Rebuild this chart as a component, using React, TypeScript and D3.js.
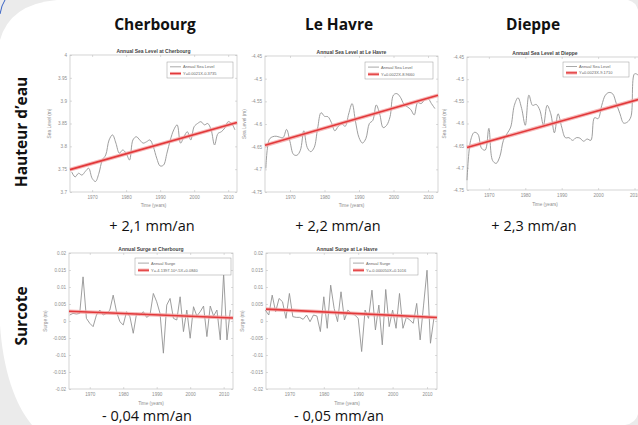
import React, { useEffect, useRef } from "react";
import * as d3 from "d3";

const WIDTH = 638;
const HEIGHT = 425;

// Column and row headings of the slide
const stations = ["Cherbourg", "Le Havre", "Dieppe"];
const rowLabels = ["Hauteur d\u2019eau", "Surcote"];
const seaLevelRates = ["+ 2,1 mm/an", "+ 2,2 mm/an", "+ 2,3 mm/an"];
const surgeRates = ["- 0,04 mm/an", "- 0,05 mm/an"];

// Tick labels
const yearTicks = [1970, 1980, 1990, 2000, 2010];
const cherbourgLevelTicks = [3.7, 3.75, 3.8, 3.85, 3.9, 3.95, 4];
const seineLevelTicks = [-4.75, -4.7, -4.65, -4.6, -4.55, -4.5, -4.45];
const surgeTicks = [-0.02, -0.015, -0.01, -0.005, 0, 0.005, 0.01, 0.015, 0.02];

// Annual mean sea level (m)
const cherbourgLevelFirstYear = 1964;
const cherbourgLevel = [
  3.744, 3.733, 3.741, 3.737, 3.745, 3.752, 3.73, 3.723, 3.741, 3.77,
  3.781, 3.814, 3.825, 3.807, 3.785, 3.792, 3.785, 3.77, 3.814, 3.821,
  3.814, 3.807, 3.81, 3.814, 3.799, 3.774, 3.757, 3.759, 3.785, 3.814,
  3.836, 3.847, 3.807, 3.821, 3.832, 3.814, 3.843, 3.85, 3.854, 3.847,
  3.85, 3.836, 3.803, 3.828, 3.832, 3.84, 3.854, 3.85, 3.836,
];

const leHavreLevelFirstYear = 1963;
const leHavreLevel = [
  -4.698, -4.634, -4.628, -4.627, -4.629, -4.63, -4.612, -4.639, -4.667, -4.669,
  -4.658, -4.615, -4.652, -4.661, -4.652, -4.61, -4.575, -4.583, -4.584, -4.597,
  -4.615, -4.605, -4.6, -4.605, -4.578, -4.555, -4.595, -4.63, -4.642, -4.632,
  -4.599, -4.592, -4.558, -4.578, -4.608, -4.603, -4.584, -4.536, -4.533, -4.541,
  -4.556, -4.562, -4.568, -4.58, -4.553, -4.555, -4.547, -4.544, -4.555, -4.566,
];

const dieppeLevelFirstYear = 1964;
const dieppeLevel = [
  -4.728, -4.638, -4.62, -4.624, -4.656, -4.66, -4.611, -4.683, -4.69, -4.675,
  -4.638, -4.623, -4.608, -4.559, -4.542, -4.566, -4.604, -4.536, -4.559, -4.557,
  -4.57, -4.604, -4.559, -4.578, -4.621, -4.578, -4.608, -4.632, -4.632, -4.638,
  -4.632, -4.633, -4.64, -4.635, -4.638, -4.587, -4.589, -4.559, -4.536, -4.53,
  -4.533, -4.555, -4.578, -4.599, -4.597, -4.585, -4.488, -4.491, -4.51,
];

// Annual mean surge (m)
const cherbourgSurgeFirstYear = 1964;
const cherbourgSurge = [
  0.00176, 0.00224, 0.00205, 0.00224, 0.01298, 0.00078, -0.00068, -0.00166, 0.00176, 0.00322,
  0.00176, 0.00224, 0.00322, 0.00761, 0.00273, -0.0002, -0.00117, 0.00273, 0.00127, -0.00361,
  0.00224, 0.00176, 0.00273, 0.00107, 0.00176, 0.0081, 0.00566, 0.00224, -0.00946, 0.00468,
  0.00663, 0.00078, 0.00029, 0.00712, -0.00312, 0.00322, -0.00507, 0.0042, 0.00146, 0.00273,
  0.00439, -0.00459, 0.00439, 0.00146, 0.00322, -0.00556, 0.01395, -0.00556, 0.00322,
];

const leHavreSurgeFirstYear = 1963;
const leHavreSurge = [
  0.00322, 0.00176, 0.00761, 0.00273, 0.00663, 0.00566, 0.00078, 0.0081, 0.00127, 0.00107,
  0.00107, 0.00049, 0.00176, -0.0002, 0.00176, 0.00146, -0.00312, 0.00712, -0.00215, 0.01054,
  0.00371, -0.0002, 0.00859, 0.00029, 0.00322, 0.00224, 0.00176, 0.00078, -0.00898, 0.00322,
  0.00078, 0.00907, -0.00263, 0.00468, -0.00702, 0.00927, -0.00166, 0.00322, -0.00215, 0.0081,
  -0.00215, 0.00107, 0.00029, -0.00068, 0.00517, -0.00556, 0.00468, 0.01493, -0.00654, 0.00078,
];

// Linear trends (m/yr and value at the left edge of each axis)
const cherbourgLevelTrend = [0.0021, 3.749];
const leHavreLevelTrend = [0.0022, -4.647];
const dieppeLevelTrend = [0.0023, -4.654];
const cherbourgSurgeTrend = [-0.00004, 0.00285];
const leHavreSurgeTrend = [-0.00005, 0.0035];

const seaLevelLegend = ["Annual Sea Level"];
const surgeLegend = ["Annual Surge"];

const fmt = (d) => String(+(+d).toFixed(3));
const smallFont = "Arial, 'Liberation Sans', sans-serif";

const panels = [
  {
    title: "Annual Sea Level at Cherbourg",
    ylabel: "Sea Level (m)",
    first: cherbourgLevelFirstYear,
    values: cherbourgLevel,
    trend: cherbourgLevelTrend,
    fit: "Y=0.0021X-0.3735",
    legend: seaLevelLegend[0],
    yTicks: cherbourgLevelTicks,
    xDomain: [1963.5, 2012.6],
    box: [70, 237, 55, 192],
    legendBox: [167, 233, 62, 78],
    ylabelOffset: 19,
    xlabelGap: 14.7,
    titleX: 153.5,
    smooth: true,
  },
  {
    title: "Annual Sea Level at Le Havre",
    ylabel: "Sea Level (m)",
    first: leHavreLevelFirstYear,
    values: leHavreLevel,
    trend: leHavreLevelTrend,
    fit: "Y=0.0022X-8.9660",
    legend: seaLevelLegend[0],
    yTicks: seineLevelTicks,
    xDomain: [1962.75, 2012.9],
    box: [265, 438, 56, 192],
    legendBox: [365, 433, 62, 79],
    ylabelOffset: 19,
    xlabelGap: 14.7,
    titleX: 351.5,
    smooth: true,
  },
  {
    title: "Annual Sea Level at Dieppe",
    ylabel: "Sea Level (m)",
    first: dieppeLevelFirstYear,
    values: dieppeLevel,
    trend: dieppeLevelTrend,
    fit: "Y=0.0023X-9.1710",
    legend: seaLevelLegend[0],
    yTicks: seineLevelTicks,
    xDomain: [1964, 2012.6],
    box: [467, 644, 57, 190],
    legendBox: [563, 629, 62, 77],
    ylabelOffset: 21,
    xlabelGap: 15.5,
    titleX: 545,
    smooth: true,
  },
  {
    title: "Annual Surge at Cherbourg",
    ylabel: "Surge (m)",
    first: cherbourgSurgeFirstYear,
    values: cherbourgSurge,
    trend: cherbourgSurgeTrend,
    fit: "Y=-4.1397.10^-5X+0.0840",
    legend: surgeLegend[0],
    yTicks: surgeTicks,
    xDomain: [1963.8, 2012.8],
    box: [69, 233, 253, 389],
    legendBox: [135, 231, 258, 275],
    ylabelOffset: 22,
    xlabelGap: 15.5,
    titleX: 151,
    smooth: false,
  },
  {
    title: "Annual Surge at Le Havre",
    ylabel: "Surge (m)",
    first: leHavreSurgeFirstYear,
    values: leHavreSurge,
    trend: leHavreSurgeTrend,
    fit: "Y=-0.000050X+0.1016",
    legend: surgeLegend[0],
    yTicks: surgeTicks,
    xDomain: [1963.2, 2012.9],
    box: [266, 437, 253, 389],
    legendBox: [350, 418, 258, 275],
    ylabelOffset: 22,
    xlabelGap: 15.5,
    titleX: 347,
    smooth: false,
  },
];

function drawPanel(svg, p) {
  const [x0, x1, y0, y1] = p.box;
  const g = svg.append("g");

  const x = d3.scaleLinear().domain(p.xDomain).range([x0, x1]);
  const y = d3.scaleLinear().domain(d3.extent(p.yTicks)).range([y1, y0]);

  // axes background + box
  g.append("rect")
    .attr("x", x0)
    .attr("y", y0)
    .attr("width", x1 - x0)
    .attr("height", y1 - y0)
    .attr("fill", "#fff")
    .attr("stroke", "#c2c2c2")
    .attr("stroke-width", 0.7);

  const styleAxis = (sel) => {
    sel.select(".domain").remove();
    sel.selectAll(".tick line").attr("stroke", "#b8b8b8").attr("stroke-width", 0.5);
    sel
      .selectAll(".tick text")
      .attr("fill", "#8e8e8e")
      .attr("font-size", 4.6)
      .attr("font-family", smallFont);
  };

  g.append("g")
    .attr("transform", `translate(0,${y1})`)
    .call(
      d3.axisBottom(x).tickValues(yearTicks).tickFormat(d3.format("d"))
        .tickSizeInner(-2).tickSizeOuter(0).tickPadding(3.5)
    )
    .call(styleAxis);
  g.append("g")
    .attr("transform", `translate(0,${y0})`)
    .call(d3.axisTop(x).tickValues(yearTicks).tickFormat(() => "").tickSizeInner(-2).tickSizeOuter(0))
    .call(styleAxis);
  g.append("g")
    .attr("transform", `translate(${x0},0)`)
    .call(d3.axisLeft(y).tickValues(p.yTicks).tickFormat(fmt).tickSizeInner(-2).tickSizeOuter(0).tickPadding(3))
    .call(styleAxis);
  g.append("g")
    .attr("transform", `translate(${x1},0)`)
    .call(d3.axisRight(y).tickValues(p.yTicks).tickFormat(() => "").tickSizeInner(-2).tickSizeOuter(0))
    .call(styleAxis);

  // data line
  const years = p.values.map((_, i) => p.first + i);
  const line = d3
    .line()
    .x((d, i) => x(years[i]))
    .y((d) => y(d))
    .curve(p.smooth ? d3.curveCatmullRom.alpha(0.5) : d3.curveLinear);

  g.append("path")
    .datum(p.values)
    .attr("d", line)
    .attr("fill", "none")
    .attr("stroke", "#939393")
    .attr("stroke-width", 0.9)
    .attr("stroke-linejoin", "round");

  // trend line (red with a light halo)
  const [slope, start] = p.trend;
  const trendPts = p.xDomain.map((yr) => [yr, start + slope * (yr - p.xDomain[0])]);
  const trendLine = d3.line().x((d) => x(d[0])).y((d) => y(d[1]));
  g.append("path")
    .datum(trendPts)
    .attr("d", trendLine)
    .attr("stroke", "#f4a6a6")
    .attr("stroke-width", 3.8)
    .attr("opacity", 0.8);
  g.append("path")
    .datum(trendPts)
    .attr("d", trendLine)
    .attr("stroke", "#e2383a")
    .attr("stroke-width", 1.6);

  // title, axis labels
  g.append("text")
    .attr("x", p.titleX)
    .attr("y", y0 - 2.2)
    .attr("text-anchor", "middle")
    .attr("font-size", 5)
    .attr("font-weight", "bold")
    .attr("font-family", smallFont)
    .attr("fill", "#444")
    .text(p.title);
  g.append("text")
    .attr("x", p.titleX)
    .attr("y", y1 + p.xlabelGap)
    .attr("text-anchor", "middle")
    .attr("font-size", 4.6)
    .attr("font-family", smallFont)
    .attr("fill", "#8e8e8e")
    .text("Time (years)");
  g.append("text")
    .attr("transform", `translate(${x0 - p.ylabelOffset},${(y0 + y1) / 2}) rotate(-90)`)
    .attr("text-anchor", "middle")
    .attr("font-size", 4.8)
    .attr("font-family", smallFont)
    .attr("fill", "#8e8e8e")
    .text(p.ylabel);

  // legend
  const [lx0, lx1, ly0, ly1] = p.legendBox;
  const lg = g.append("g");
  lg.append("rect")
    .attr("x", lx0)
    .attr("y", ly0)
    .attr("width", lx1 - lx0)
    .attr("height", ly1 - ly0)
    .attr("fill", "#fff")
    .attr("stroke", "#9a9a9a")
    .attr("stroke-width", 0.5);
  const r1 = ly0 + (ly1 - ly0) * 0.3;
  const r2 = ly0 + (ly1 - ly0) * 0.72;
  lg.append("line")
    .attr("x1", lx0 + 3).attr("x2", lx0 + 14)
    .attr("y1", r1).attr("y2", r1)
    .attr("stroke", "#939393").attr("stroke-width", 0.8);
  lg.append("line")
    .attr("x1", lx0 + 3).attr("x2", lx0 + 14)
    .attr("y1", r2).attr("y2", r2)
    .attr("stroke", "#f4a6a6").attr("stroke-width", 3.2);
  lg.append("line")
    .attr("x1", lx0 + 3).attr("x2", lx0 + 14)
    .attr("y1", r2).attr("y2", r2)
    .attr("stroke", "#e2383a").attr("stroke-width", 1.2);
  [p.legend, p.fit].forEach((t, i) => {
    lg.append("text")
      .attr("x", lx0 + 16)
      .attr("y", (i === 0 ? r1 : r2) + 1.4)
      .attr("font-size", 4)
      .attr("font-family", smallFont)
      .attr("fill", "#666")
      .text(t);
  });
}

export default function App() {
  const ref = useRef(null);

  useEffect(() => {
    const svg = d3.select(ref.current);
    svg.selectAll("*").remove();

    // slide background: grey with a large white rounded panel
    svg.append("rect").attr("width", WIDTH).attr("height", HEIGHT).attr("fill", "#ebebeb");
    svg
      .append("path")
      .attr(
        "d",
        "M0,40 Q10,4 57,0 L628,0 Q636,2 638,10 L638,414 Q636,423 625,425 L32,425 C15,405 3,370 0,325 Z"
      )
      .attr("fill", "#fff");
    svg
      .append("path")
      .attr("d", "M0,14 Q1.5,5 5,0")
      .attr("fill", "none")
      .attr("stroke", "#3a63c4")
      .attr("stroke-width", 1);

    panels.forEach((p) => drawPanel(svg, p));

    const font = "'Open Sans', sans-serif";
    const colCenters = [155, 339, 533];
    stations.forEach((s, i) => {
      svg.append("text")
        .attr("x", colCenters[i])
        .attr("y", 30)
        .attr("text-anchor", "middle")
        .attr("font-family", font)
        .attr("font-weight", "bold")
        .attr("font-size", 15.5)
        .attr("fill", "#111")
        .text(s);
    });
    seaLevelRates.forEach((s, i) => {
      svg.append("text")
        .attr("x", [152, 338, 534][i])
        .attr("y", 231)
        .attr("text-anchor", "middle")
        .attr("font-family", font)
        .attr("font-size", 14.5)
        .attr("fill", "#111")
        .text(s);
    });
    surgeRates.forEach((s, i) => {
      svg.append("text")
        .attr("x", [147, 339][i])
        .attr("y", 421)
        .attr("text-anchor", "middle")
        .attr("font-family", font)
        .attr("font-size", 14.5)
        .attr("fill", "#111")
        .text(s);
    });
    rowLabels.forEach((s, i) => {
      svg.append("text")
        .attr("transform", `translate(27,${[132, 316][i]}) rotate(-90)`)
        .attr("text-anchor", "middle")
        .attr("font-family", font)
        .attr("font-weight", "bold")
        .attr("font-size", 15.5)
        .attr("fill", "#111")
        .text(s);
    });
  }, []);

  return (
    <div style={{ position: "absolute", left: 0, top: 0 }}>
      <svg ref={ref} width={WIDTH} height={HEIGHT} style={{ display: "block" }} />
    </div>
  );
}
